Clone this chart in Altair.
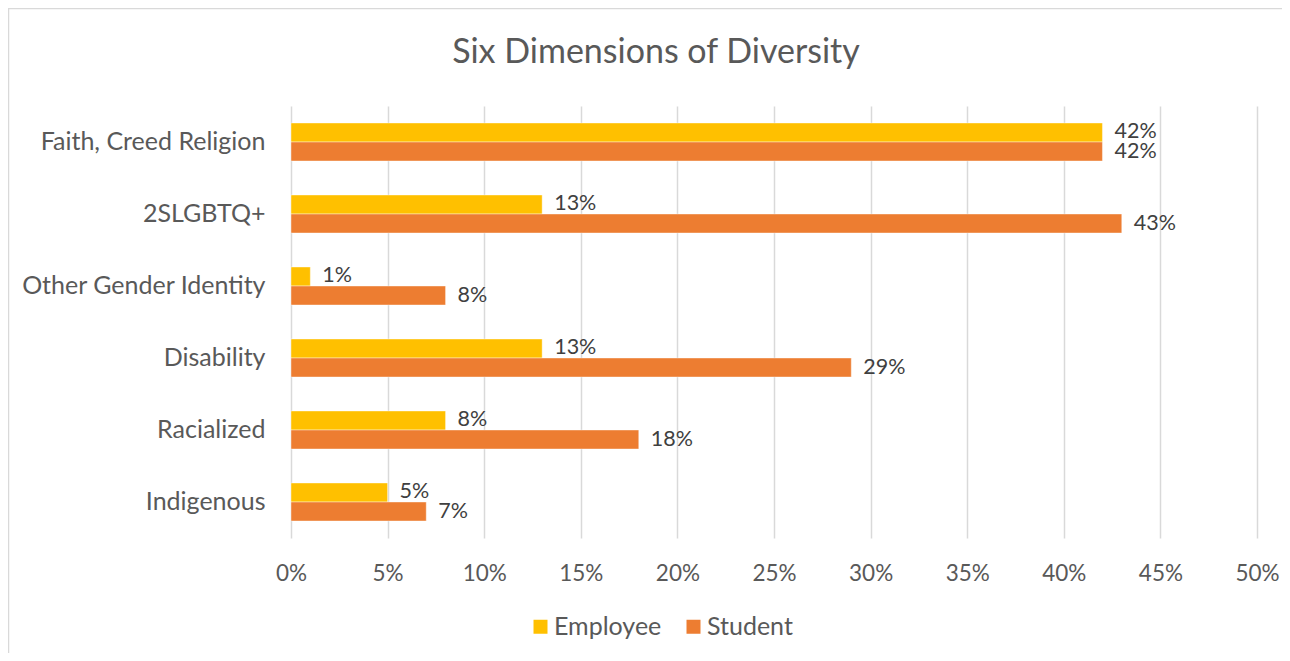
import altair as alt
import pandas as pd

categories = ["Faith, Creed Religion", "2SLGBTQ+", "Other Gender Identity",
              "Disability", "Racialized", "Indigenous"]
employee = [42, 13, 1, 13, 8, 5]
student = [42, 43, 8, 29, 18, 7]
series = ["Employee", "Student"]
colors = ["#FFC000", "#ED7D31"]
x_ticks = [0, 0.05, 0.10, 0.15, 0.20, 0.25, 0.30, 0.35, 0.40, 0.45, 0.50]

rows = []
for c, e, s in zip(categories, employee, student):
    rows.append({"category": c, "series": "Employee", "value": e / 100})
    rows.append({"category": c, "series": "Student", "value": s / 100})
df = pd.DataFrame(rows)

FONT = "Lato"
TXT = "#595959"

y = alt.Y("category:N", sort=categories,
          scale=alt.Scale(paddingInner=0.472, paddingOuter=0.236),
          axis=alt.Axis(title=None, domain=False, ticks=False, grid=False,
                        labelPadding=26, labelFontSize=25, labelColor=TXT,
                        labelFont=FONT, labelLimit=400))
yoff = alt.YOffset("series:N", sort=series,
                   scale=alt.Scale(paddingInner=0, paddingOuter=0))
x = alt.X("value:Q", scale=alt.Scale(domain=[0, 0.5], nice=False),
          axis=alt.Axis(title=None, format=".0%", values=x_ticks, domain=False,
                        ticks=False, grid=True, gridColor="#d9d9d9", gridWidth=1.5,
                        labelPadding=24, labelFontSize=22.5, labelColor=TXT,
                        labelFont=FONT, labelFlush=False, labelOverlap=False))

bars = alt.Chart(df).mark_bar(stroke="white", strokeWidth=0.8, strokeOpacity=0.5).encode(
    x=x, y=y, yOffset=yoff,
    color=alt.Color("series:N", sort=series,
                    scale=alt.Scale(domain=series, range=colors),
                    legend=alt.Legend(title=None, orient="none", legendX=237, legendY=508,
                                      direction="horizontal", symbolType="square",
                                      symbolSize=196, symbolStrokeWidth=0,
                                      labelFontSize=25, labelFont=FONT, labelColor=TXT,
                                      labelOffset=1, columnPadding=19, padding=0)),
)

labels = alt.Chart(df).mark_text(align="left", baseline="middle", dx=12, font=FONT,
                                 fontSize=21.5, color="#404040").encode(
    x=x, y=y, yOffset=yoff, text=alt.Text("value:Q", format=".0%"))

border = alt.Chart(pd.DataFrame({"k": [0]})).mark_rect(
    fill=None, stroke="#d9d9d9", strokeWidth=1.5).encode(
    x=alt.value(-282.5), x2=alt.value(1200), y=alt.value(-97.5), y2=alt.value(700))

chart = alt.layer(border, bars, labels).properties(
    width=966, height=432,
    title=alt.TitleParams("Six Dimensions of Diversity", anchor="middle", dx=-118,
                          offset=-89, baseline="alphabetic", font=FONT, fontSize=34,
                          fontWeight="normal", color=TXT),
    autosize=alt.AutoSizeParams(type="none"),
    padding={"left": 283, "right": 25, "top": 98, "bottom": 115},
).configure(background="white", view=alt.ViewConfig(stroke=None))

chart.save("out.html", embed_options={"renderer": "svg", "actions": False})
